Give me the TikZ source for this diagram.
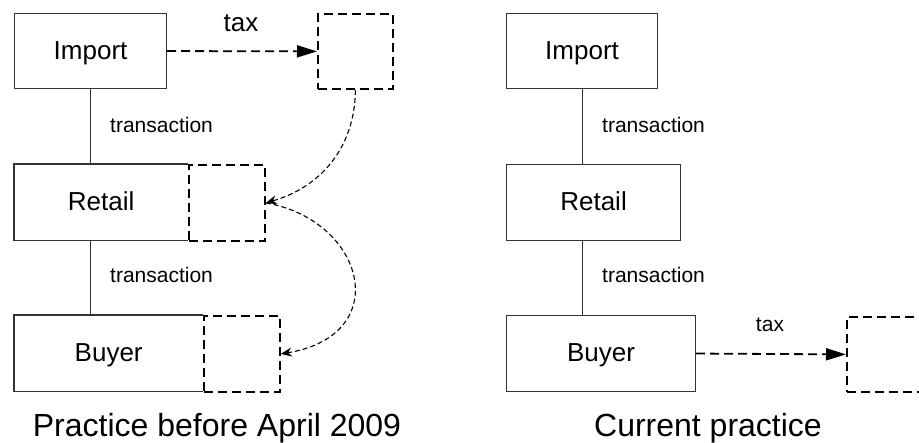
\documentclass[tikz,border=0pt]{standalone}
\usepackage{fontspec}
\setmainfont{Liberation Sans}
\usetikzlibrary{arrows.meta}
\begin{document}
\begin{tikzpicture}[x=1pt,y=-1pt,
  boxtext/.style={font=\fontsize{26}{30}\selectfont,text height=16pt,text depth=0pt},
  solidbox/.style={draw=black!80,line width=1.1pt,rectangle,inner sep=0pt,anchor=north west,boxtext},
  plainbox/.style={rectangle,inner sep=0pt,anchor=north west,boxtext},
  dashbox/.style={draw=black,line width=1.8pt,dash pattern=on 9pt off 5pt,rectangle,inner sep=0pt,anchor=north west,fill=white},
  link/.style={draw=black!80,line width=1.1pt},
  transl/.style={font=\fontsize{21}{25}\selectfont,anchor=base west,inner sep=0pt},
  taxarrow/.style={draw=black,line width=1.8pt,dash pattern=on 9pt off 5pt,-{Triangle[length=20pt,width=12pt]}},
  curvearrow/.style={draw=black,line width=1.1pt,dash pattern=on 5pt off 3pt,-{Stealth[length=11pt,width=9pt]}},
  caption/.style={font=\fontsize{32}{38}\selectfont,anchor=base,inner sep=0pt}
]
\useasboundingbox (0,0) rectangle (919,443);

% ---- left: practice before April 2009 ----
\node[solidbox,minimum width=152pt,minimum height=75pt] (imp) at (14,13) {Import};
\node[dashbox,minimum width=75pt,minimum height=75pt] (tbox) at (317,13) {};

\node[plainbox,minimum width=174pt,minimum height=76pt] (ret) at (14,164) {Retail};
\draw[link] (ret.north east) -- (ret.north west) -- (ret.south west) -- (ret.south east);
\node[dashbox,minimum width=76pt,minimum height=76pt] (retx) at (188,164) {};

\node[plainbox,minimum width=189pt,minimum height=76pt] (buy) at (14,315) {Buyer};
\draw[link] (buy.north east) -- (buy.north west) -- (buy.south west) -- (buy.south east);
\node[dashbox,minimum width=76pt,minimum height=76pt] (buyx) at (203,315) {};

\draw[link] (imp.south) -- (imp.south |- ret.north);
\draw[link] (imp.south |- ret.south) -- (imp.south |- buy.north);
\node[transl] (tr1) at (110,133) {transaction};
\node[transl] (tr2) at (110,283) {transaction};

\draw[taxarrow] (imp.east) -- (tbox.west);
\node[font=\fontsize{26}{30}\selectfont,anchor=base,inner sep=0pt] (tax1) at (241,32) {tax};

\draw[curvearrow] (tbox.south) .. controls (355,150) and (318,188) .. (retx.east);
\draw[curvearrow] (retx.east) .. controls (365,220) and (395,335) .. (buyx.east);

\node[caption] (cap1) at (217,437) {Practice before April 2009};

% ---- right: current practice ----
\node[solidbox,minimum width=151pt,minimum height=75pt] (imp2) at (506,13) {Import};
\node[solidbox,minimum width=174pt,minimum height=76pt] (ret2) at (506,164) {Retail};
\node[solidbox,minimum width=189pt,minimum height=76pt] (buy2) at (506,315) {Buyer};
\node[dashbox,minimum width=80pt,minimum height=75pt] (tbox2) at (846,316) {};

\draw[link] (imp2.south) -- (imp2.south |- ret2.north);
\draw[link] (imp2.south |- ret2.south) -- (imp2.south |- buy2.north);
\node[transl] (tr3) at (602,133) {transaction};
\node[transl] (tr4) at (602,283) {transaction};

\draw[taxarrow] (buy2.east) -- (tbox2.west);
\node[font=\fontsize{21}{25}\selectfont,anchor=base,inner sep=0pt] (tax2) at (770,332) {tax};

\node[caption] (cap2) at (708,437) {Current practice};
\end{tikzpicture}
\end{document}
